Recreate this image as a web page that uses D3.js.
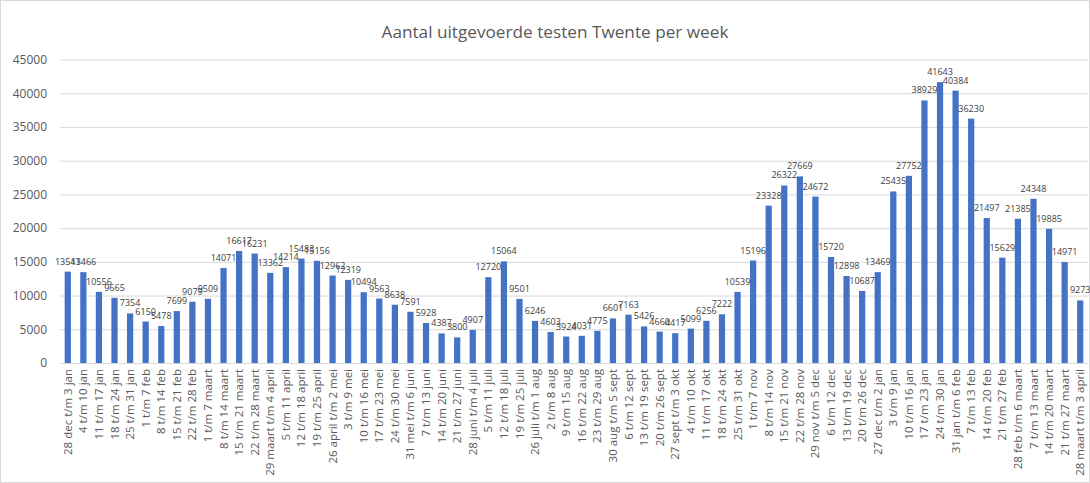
<!DOCTYPE html>
<html><head><meta charset="utf-8">
<script src="https://cdn.jsdelivr.net/npm/d3@7"></script>
<style>body{margin:0;background:#fff}svg{display:block}text{font-family:"Open Sans","Liberation Sans",sans-serif}</style>
</head><body><div id="chart"></div>
<script>
const title = "Aantal uitgevoerde testen Twente per week";
const weeks = ["28 dec t/m 3 jan","4 t/m 10 jan","11 t/m 17 jan","18 t/m 24 jan","25 t/m 31 jan","1 t/m 7 feb","8 t/m 14 feb","15 t/m 21 feb","22 t/m 28 feb","1 t/m 7 maart","8 t/m 14 maart","15 t/m 21 maart","22 t/m 28 maart","29 maart t/m 4 april","5 t/m 11 april","12 t/m 18 april","19 t/m 25 april","26 april t/m 2 mei","3 t/m 9 mei","10 t/m 16 mei","17 t/m 23 mei","24 t/m 30 mei","31 mei t/m 6 juni","7 t/m 13 juni","14 t/m 20 juni","21 t/m 27 juni","28 juni t/m 4 juli","5 t/m 11 juli","12 t/m 18 juli","19 t/m 25 juli","26 juli t/m 1 aug","2 t/m 8 aug","9 t/m 15 aug","16 t/m 22 aug","23 t/m 29 aug","30 aug t/m 5 sept","6 t/m 12 sept","13 t/m 19 sept","20 t/m 26 sept","27 sept t/m 3 okt","4 t/m 10 okt","11 t/m 17 okt","18 t/m 24 okt","25 t/m 31 okt","1 t/m 7 nov","8 t/m 14 nov","15 t/m 21 nov","22 t/m 28 nov","29 nov t/m 5 dec","6 t/m 12 dec","13 t/m 19 dec","20 t/m 26 dec","27 dec t/m 2 jan","3 t/m 9 jan","10 t/m 16 jan","17 t/m 23 jan","24 t/m 30 jan","31 jan t/m 6 feb","7 t/m 13 feb","14 t/m 20 feb","21 t/m 27 feb","28 feb t/m 6 maart","7 t/m 13 maart","14 t/m 20 maart","21 t/m 27 maart","28 maart t/m 3 april"];
const tests = [13541,13466,10556,9665,7354,6150,5478,7699,9079,9509,14071,16617,16231,13362,14214,15483,15156,12962,12319,10494,9563,8638,7591,5928,4387,3800,4907,12720,15064,9501,6246,4603,3924,4031,4775,6601,7163,5426,4660,4417,5099,6256,7222,10539,15196,23328,26322,27669,24672,15720,12898,10687,13469,25435,27752,38929,41643,40384,36230,21497,15629,21385,24348,19885,14971,9273];
const yTicks = [0,5000,10000,15000,20000,25000,30000,35000,40000,45000];

const W = 1090, H = 483;
const m = {left:60, right:2, top:59.5, bottom:120};
const svg = d3.select("#chart").append("svg").attr("width",W).attr("height",H);
svg.append("rect").attr("x",0.5).attr("y",0.5).attr("width",W-1).attr("height",H-1).attr("fill","#fff").attr("stroke","#d9d9d9");

const x = d3.scaleBand().domain(weeks).range([m.left, W-m.right]).paddingInner(0.6).paddingOuter(0.3);
const y = d3.scaleLinear().domain([0,45000]).range([H-m.bottom, m.top]);

svg.append("text").attr("x",555).attr("y",38).attr("text-anchor","middle")
  .attr("font-size",17.2).attr("fill","#595959").text(title);

const gy = svg.append("g").attr("transform",`translate(${m.left},0)`)
  .call(d3.axisLeft(y).tickValues(yTicks).tickSize(-(W-m.right-m.left)).tickFormat(d3.format("d")));
gy.select(".domain").remove();
gy.selectAll(".tick line").attr("stroke","#d9d9d9");
gy.selectAll(".tick text").attr("x",-13).attr("fill","#595959").attr("font-size",12);

svg.selectAll("rect.bar").data(tests).join("rect").attr("class","bar")
  .attr("x",(d,i)=>x(weeks[i])).attr("width",x.bandwidth())
  .attr("y",d=>y(d)).attr("height",d=>y(0)-y(d)).attr("fill","#4472C4");

svg.selectAll("text.lbl").data(tests).join("text").attr("class","lbl")
  .attr("x",(d,i)=>x(weeks[i])+x.bandwidth()/2).attr("y",d=>y(d)-7)
  .attr("text-anchor","middle").attr("font-size",9).attr("fill","#404040").text(d=>d);

const gx = svg.append("g").attr("transform",`translate(0,${y(0)})`)
  .call(d3.axisBottom(x).tickSize(0));
gx.select(".domain").attr("stroke","#d9d9d9");
gx.selectAll(".tick text").attr("transform","rotate(-90)").attr("text-anchor","end")
  .attr("x",-6).attr("y",0).attr("dy","0.35em").attr("fill","#595959").attr("font-size",11.5);
</script></body></html>
